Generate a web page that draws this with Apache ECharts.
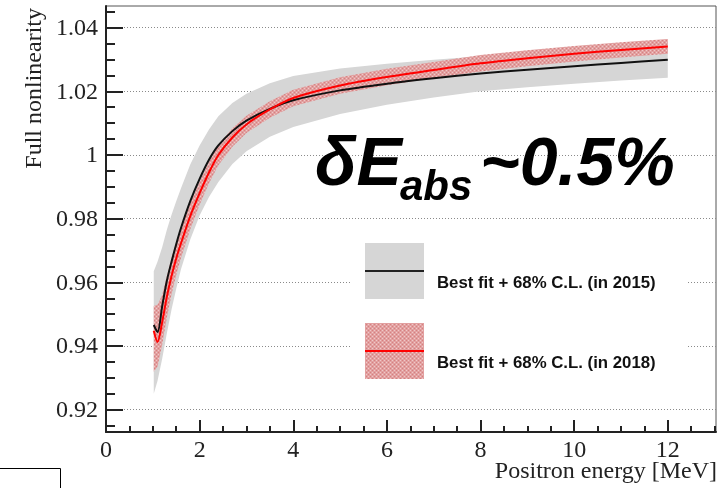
<!DOCTYPE html>
<html>
<head>
<meta charset="utf-8">
<script src="https://cdn.jsdelivr.net/npm/echarts@6/dist/echarts.min.js"></script>
<style>
  html, body { margin: 0; padding: 0; background: #ffffff; }
  #chart { width: 724px; height: 488px; }
</style>
</head>
<body>
<div id="chart"></div>
<script>
// Positron energy sampling points [MeV]
const energy = [1.02, 1.1, 1.2, 1.3, 1.4, 1.5, 1.6, 1.8, 2.0, 2.2, 2.4, 2.7, 3.0, 3.5, 4.0, 5.0, 6.0, 7.0, 8.0, 9.0, 10, 11, 12];

// 2015 best fit and 68% C.L. band
const fit2015 = [0.9466, 0.9444, 0.9525, 0.9605, 0.9665, 0.9720, 0.9770, 0.9855, 0.9925, 0.9985, 1.0030, 1.0075, 1.0108, 1.0145, 1.0172, 1.0203, 1.0224, 1.0241, 1.0256, 1.0268, 1.0279, 1.0289, 1.0299];
const lo2015  = [0.9250, 0.9290, 0.9360, 0.9440, 0.9515, 0.9580, 0.9640, 0.9735, 0.9810, 0.9868, 0.9915, 0.9972, 1.0012, 1.0057, 1.0088, 1.0129, 1.0158, 1.0181, 1.0200, 1.0213, 1.0224, 1.0234, 1.0243];
const hi2015  = [0.9635, 0.9665, 0.9710, 0.9765, 0.9812, 0.9855, 0.9895, 0.9970, 1.0030, 1.0080, 1.0122, 1.0163, 1.0192, 1.0225, 1.0248, 1.0272, 1.0287, 1.0299, 1.0310, 1.0322, 1.0334, 1.0345, 1.0356];

// 2018 best fit and 68% C.L. band
const fit2018 = [0.9448, 0.9413, 0.9475, 0.9555, 0.9620, 0.9675, 0.9722, 0.9808, 0.9880, 0.9945, 1.0000, 1.0055, 1.0096, 1.0143, 1.0179, 1.0218, 1.0245, 1.0267, 1.0288, 1.0304, 1.0318, 1.0330, 1.0341];
const lo2018  = [0.9319, 0.9335, 0.9405, 0.9490, 0.9563, 0.9623, 0.9676, 0.9767, 0.9844, 0.9911, 0.9968, 1.0026, 1.0069, 1.0117, 1.0153, 1.0192, 1.0219, 1.0242, 1.0262, 1.0279, 1.0294, 1.0306, 1.0318];
const hi2018  = [0.9526, 0.9530, 0.9560, 0.9620, 0.9677, 0.9727, 0.9768, 0.9849, 0.9916, 0.9979, 1.0032, 1.0084, 1.0123, 1.0169, 1.0205, 1.0244, 1.0271, 1.0292, 1.0314, 1.0329, 1.0342, 1.0354, 1.0364];

// Axis ticks and their labels
const xMajorTicks = [0, 2, 4, 6, 8, 10, 12];
const xTickLabels = ['0', '2', '4', '6', '8', '10', '12'];
const yMajorTicks = [0.92, 0.94, 0.96, 0.98, 1, 1.02, 1.04];
const yTickLabels = ['0.92', '0.94', '0.96', '0.98', '1', '1.02', '1.04'];
const xRange = [0, 13.03];
const yRange = [0.9130, 1.0468];

const legendLabels = ['Best fit + 68% C.L. (in 2015)', 'Best fit + 68% C.L. (in 2018)'];
const xTitle = 'Positron energy [MeV]';
const yTitle = 'Full nonlinearity';

// Minor tick positions between the labelled ones
function minorTicks(start, end, step, majors) {
  const out = [];
  for (let k = 0; start + k * step <= end + 1e-9; k++) {
    const v = Math.round((start + k * step) * 1e4) / 1e4;
    if (!majors.some(m => Math.abs(m - v) < 1e-9)) out.push(v);
  }
  return out;
}
const xMinorTicks = minorTicks(0, 13, 0.5, xMajorTicks);
const yMinorTicks = minorTicks(0.915, 1.045, 0.005, yMajorTicks);

// Speckled pink fill for the 2018 band
function hatchCanvas() {
  const c = document.createElement('canvas');
  c.width = 4; c.height = 4;
  const g = c.getContext('2d');
  g.fillStyle = 'rgb(226,160,160)';
  g.fillRect(0, 0, 4, 4);
  g.fillStyle = 'rgb(240,200,200)';
  g.fillRect(0, 0, 1, 1);
  g.fillRect(2, 2, 1, 1);
  g.fillStyle = 'rgb(214,128,128)';
  g.fillRect(2, 0, 1, 1);
  g.fillRect(0, 2, 1, 1);
  return c;
}
const hatch = hatchCanvas();

function bandSeries(name, lo, hi, fill, z) {
  return {
    name: name,
    type: 'custom',
    z: z,
    silent: true,
    data: energy.map((e, i) => [e, lo[i], hi[i]]),
    encode: { x: 0, y: [1, 2] },
    renderItem: function (params, api) {
      if (params.dataIndex !== 0) return null;
      const upper = energy.map((e, i) => api.coord([e, hi[i]]));
      const lower = energy.map((e, i) => api.coord([e, lo[i]])).reverse();
      return {
        type: 'polygon',
        shape: { points: upper.concat(lower) },
        style: { fill: fill, stroke: null }
      };
    }
  };
}

function lineSeries(name, values, color, z) {
  return {
    name: name,
    type: 'line',
    z: z,
    data: energy.map((e, i) => [e, values[i]]),
    showSymbol: false,
    symbol: 'none',
    smooth: 0.3,
    lineStyle: { color: color, width: 2 },
    silent: true
  };
}

const serifFont = '24px "Liberation Serif"';

const chart = echarts.init(document.getElementById('chart'), null, { renderer: 'canvas' });

chart.setOption({
  animation: false,
  backgroundColor: '#ffffff',
  grid: {
    left: 106, right: 8, top: 6, bottom: 56,
    show: true, borderColor: '#555', borderWidth: 1, backgroundColor: 'transparent'
  },
  xAxis: [
    {
      type: 'value', min: xRange[0], max: xRange[1], position: 'bottom',
      axisLine: { show: true, onZero: false, lineStyle: { color: '#222', width: 2 } },
      axisTick: { show: true, inside: true, length: 12, customValues: xMajorTicks, lineStyle: { color: '#222', width: 2 } },
      axisLabel: { show: false },
      splitLine: { show: false }
    },
    {
      type: 'value', min: xRange[0], max: xRange[1], position: 'bottom',
      axisLine: { show: false },
      axisTick: { show: true, inside: true, length: 6, customValues: xMinorTicks, lineStyle: { color: '#222', width: 2 } },
      axisLabel: { show: false },
      splitLine: { show: false }
    }
  ],
  yAxis: [
    {
      type: 'value', min: yRange[0], max: yRange[1], position: 'left',
      axisLine: { show: true, onZero: false, lineStyle: { color: '#222', width: 2 } },
      axisTick: { show: true, inside: true, length: 17, customValues: yMajorTicks, lineStyle: { color: '#222', width: 2 } },
      axisLabel: { show: false },
      splitLine: { show: true, lineStyle: { color: '#8a8a8a', width: 1, type: [1, 2] } }
    },
    {
      type: 'value', min: yRange[0], max: yRange[1], position: 'left',
      axisLine: { show: false },
      axisTick: { show: true, inside: true, length: 9, customValues: yMinorTicks, lineStyle: { color: '#222', width: 2 } },
      axisLabel: { show: false },
      splitLine: { show: false }
    }
  ],
  series: [
    bandSeries('band2015', lo2015, hi2015, '#d6d6d6', 2),
    bandSeries('band2018', lo2018, hi2018, { image: hatch, repeat: 'repeat' }, 3),
    lineSeries('fit2015', fit2015, '#111111', 4),
    lineSeries('fit2018', fit2018, '#ff0000', 5)
  ]
});

// Tick labels in the serif face, placed through the axes' own scales
const xLabelEls = xMajorTicks.map((v, i) => {
  const p = chart.convertToPixel({ xAxisIndex: 0, yAxisIndex: 0 }, [v, yRange[0]]);
  return {
    type: 'text', x: p[0], y: p[1] + 19, z: 10,
    style: { text: xTickLabels[i], font: serifFont, fill: '#222', align: 'center', verticalAlign: 'middle' }
  };
});
const yLabelEls = yMajorTicks.map((v, i) => {
  const p = chart.convertToPixel({ xAxisIndex: 0, yAxisIndex: 0 }, [xRange[0], v]);
  return {
    type: 'text', x: p[0] - 8, y: p[1] + 1, z: 10,
    style: { text: yTickLabels[i], font: serifFont, fill: '#222', align: 'right', verticalAlign: 'middle' }
  };
});

chart.setOption({
  graphic: xLabelEls.concat(yLabelEls, [
    // axis titles
    {
      type: 'text', x: 717, y: 472, z: 10,
      style: { text: xTitle, font: serifFont, fill: '#222', align: 'right', verticalAlign: 'middle' }
    },
    {
      type: 'text', x: 35, y: 8, rotation: Math.PI / 2, z: 10,
      style: { text: yTitle, font: serifFont, fill: '#222', align: 'right', verticalAlign: 'middle' }
    },
    // energy-scale uncertainty note
    {
      type: 'text', x: 315, y: 166, z: 10,
      style: { text: 'δE', font: 'italic bold 68px "Liberation Sans"', fill: '#000', align: 'left', verticalAlign: 'middle' }
    },
    {
      type: 'text', x: 400, y: 188, z: 10,
      style: { text: 'abs', font: 'italic bold 42px "Liberation Sans"', fill: '#000', align: 'left', verticalAlign: 'middle' }
    },
    {
      type: 'text', x: 480, y: 166, z: 10,
      style: { text: '~0.5%', font: 'italic bold 68px "Liberation Sans"', fill: '#000', align: 'left', verticalAlign: 'middle' }
    },
    // legend
    {
      type: 'group', z: 10,
      children: [
        { type: 'rect', shape: { x: 352, y: 232, width: 336, height: 160 }, style: { fill: '#ffffff' } },
        { type: 'rect', shape: { x: 365, y: 243, width: 59, height: 56 }, style: { fill: '#d6d6d6' } },
        { type: 'line', shape: { x1: 365, y1: 271, x2: 424, y2: 271 }, style: { stroke: '#222', lineWidth: 2 } },
        { type: 'text', x: 437, y: 283, style: { text: legendLabels[0], font: 'bold 16.8px "Liberation Sans"', fill: '#111', align: 'left', verticalAlign: 'middle' } },
        { type: 'rect', shape: { x: 365, y: 323, width: 59, height: 56 }, style: { fill: { image: hatch, repeat: 'repeat' } } },
        { type: 'line', shape: { x1: 365, y1: 351, x2: 424, y2: 351 }, style: { stroke: '#ff0000', lineWidth: 2 } },
        { type: 'text', x: 437, y: 363, style: { text: legendLabels[1], font: 'bold 16.8px "Liberation Sans"', fill: '#111', align: 'left', verticalAlign: 'middle' } }
      ]
    },
    // small frame in the lower-left corner
    {
      type: 'rect', z: 10,
      shape: { x: -2, y: 468.5, width: 62.5, height: 30 },
      style: { fill: 'none', stroke: '#000', lineWidth: 1 }
    }
  ])
});
</script>
</body>
</html>
